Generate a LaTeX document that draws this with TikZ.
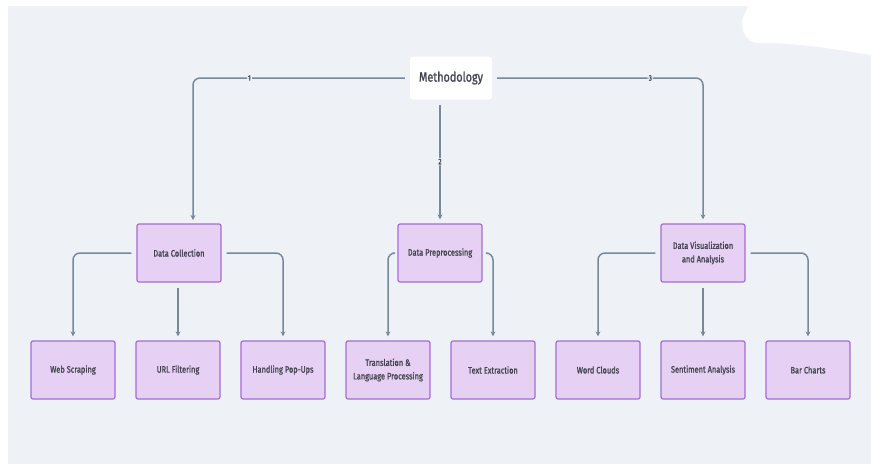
\documentclass[tikz,border=0pt]{standalone}
\usepackage{fontspec}
\setmainfont{Fira Sans}[FakeStretch=0.8, FakeBold=1.2]
\usepackage{tikz}
\usetikzlibrary{arrows.meta}

\definecolor{bgcol}{HTML}{EEF2F6}
\definecolor{boxfill}{HTML}{E6D0F4}
\definecolor{boxline}{HTML}{A66BD6}
\definecolor{linecol}{HTML}{78889A}
\definecolor{txtcol}{HTML}{43444F}

\tikzset{
    leaf/.style={draw=boxline, line width=1.2pt, fill=boxfill, rounded corners=2pt,
        minimum width=84pt, minimum height=58pt, align=center,
        font=\fontsize{9.3}{13.5}\selectfont, text=txtcol},
    root/.style={fill=white, rounded corners=3pt, minimum width=82pt, minimum height=43pt,
        font=\fontsize{13.5}{15}\selectfont, text=txtcol},
    conn/.style={draw=linecol, line width=1.5pt, rounded corners=7pt,
        -{Stealth[length=5pt,width=5pt]}, shorten <=5pt, shorten >=4pt},
    num/.style={fill=bgcol, inner sep=1pt, font=\fontsize{8}{8}\selectfont, text=txtcol}
}

\begin{document}
\begin{tikzpicture}[x=1pt,y=-1pt]
    \useasboundingbox (0,0) rectangle (871,464);
    \fill[bgcol] (8,6) rectangle (871,464);
    \fill[white] (748,6) -- (871,6) -- (871,55)
        .. controls (840,50) and (800,43) .. (765,43)
        .. controls (748,45) and (742,35) .. (742,20) -- cycle;

    % top
    \node[root] (meth) at (451,78) {Methodology};

    % middle row
    \node[leaf] (dc) at (179,253) {Data Collection};
    \node[leaf] (dp) at (440,253) {Data Preprocessing};
    \node[leaf] (dv) at (703,253) {Data Visualization\\and Analysis};

    % bottom row
    \node[leaf] (ws) at (73,370) {Web Scraping};
    \node[leaf] (uf) at (178,370) {URL Filtering};
    \node[leaf] (hp) at (283,370) {Handling Pop-Ups};
    \node[leaf] (tl) at (388,370) {Translation \&\\Language Processing};
    \node[leaf] (te) at (493,370) {Text Extraction};
    \node[leaf] (wc) at (598,370) {Word Clouds};
    \node[leaf] (sa) at (703,370) {Sentiment Analysis};
    \node[leaf] (bc) at (808,370) {Bar Charts};

    \coordinate (dctop) at (193,224);

    \draw[conn] (meth.west) -| node[num, pos=0.37] {1} (dctop);
    \draw[conn] ([xshift=-11pt]meth.south) -- node[num] {2} (dp.north);
    \draw[conn] (meth.east) -| node[num, pos=0.375] {3} (dv.north);

    \draw[conn] (dc.west) -| (ws.north);
    \draw[conn] (dc.south -| uf.north) -- (uf.north);
    \draw[conn] (dc.east) -| (hp.north);

    \draw[conn] (dp.west) -| (tl.north);
    \draw[conn] (dp.east) -| (te.north);

    \draw[conn] (dv.west) -| (wc.north);
    \draw[conn] (dv.south) -- (sa.north);
    \draw[conn] (dv.east) -| (bc.north);
\end{tikzpicture}
\end{document}
